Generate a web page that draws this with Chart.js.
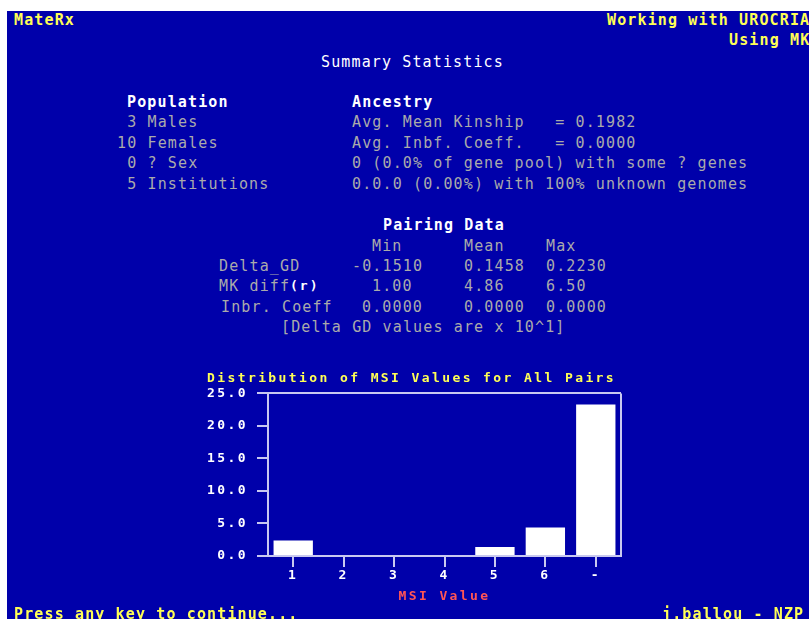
<!DOCTYPE html>
<html>
<head>
<meta charset="utf-8">
<script src="https://cdn.jsdelivr.net/npm/chart.js@4"></script>
<style>
  html, body { margin:0; padding:0; width:809px; height:619px; overflow:hidden; background:#ffffff; }
  #screen { position:absolute; left:7px; top:11px; width:802px; height:608px; background:#0000aa; }
  .t { position:absolute; white-space:pre; font-family:"DejaVu Sans Mono", monospace; font-size:15px;
       line-height:20px; letter-spacing:1.13px; color:#aaaaaa; z-index:2; }
  .w { color:#ffffff; font-weight:bold; }
  .wn { color:#ffffff; }
  .y { color:#ffff55; font-weight:bold; }
  .sm { font-size:13px; letter-spacing:2px; color:#ffffff; font-weight:bold; }
  #chartWrap { position:absolute; left:200px; top:362px; width:430px; height:246px; z-index:1; }
</style>
</head>
<body>
<div id="screen"></div>
<div id="texts"></div>
<div id="chartWrap"><canvas id="c" width="430" height="246"></canvas></div>
<script>
// ---- data ----
const categories = ['1', '2', '3', '4', '5', '6', '-'];
const msiValues = [2.4, 0, 0, 0, 1.4, 4.4, 23.3];
const yMin = 0, yMax = 25, yStep = 5;
const chartTitle = 'Distribution of MSI Values for All Pairs';
const xTitle = 'MSI Value';

// ---- screen text (content, class, left x, cap-centre y) ----
const screenLines = [
  ['MateRx', 'y', 14, 19.5],
  ['Working with UROCRIA', 'y', 607, 19.5],
  ['Using MK', 'y', 729, 40],
  ['Summary Statistics', 'wn', 321, 61.5],
  ['Population', 'w', 127, 101.5],
  ['Ancestry', 'w', 352, 101.5],
  [' 3 Males', '', 117, 122],
  ['10 Females', '', 117, 142.5],
  [' 0 ? Sex', '', 117, 162.5],
  [' 5 Institutions', '', 117, 183.5],
  ['Avg. Mean Kinship   = 0.1982', '', 352, 122],
  ['Avg. Inbf. Coeff.   = 0.0000', '', 352, 142.5],
  ['0 (0.0% of gene pool) with some ? genes', '', 352, 162.5],
  ['0.0.0 (0.00%) with 100% unknown genomes', '', 352, 183.5],
  ['Pairing Data', 'w', 383, 225],
  ['Min', '', 372, 245.5],
  ['Mean', '', 464, 245.5],
  ['Max', '', 546, 245.5],
  ['Delta_GD', '', 219, 265.5],
  ['-0.1510', '', 352, 265.5],
  ['0.1458', '', 464, 265.5],
  ['0.2230', '', 546, 265.5],
  ['MK diff', '', 219, 286],
  ['1.00', '', 372, 286],
  ['4.86', '', 464, 286],
  ['6.50', '', 546, 286],
  ['Inbr. Coeff', '', 221, 306.5],
  ['0.0000', '', 362, 306.5],
  ['0.0000', '', 464, 306.5],
  ['0.0000', '', 546, 306.5],
  ['[Delta GD values are x 10^1]', '', 281, 327],
  ['Press any key to continue...', 'y', 14, 613.5],
  ['j.ballou - NZP', 'y', 662, 613.5]
];
const smallLines = [['(r)', 290, 286.5]];

const tc = document.getElementById('texts');
screenLines.forEach(([txt, cls, x, cy]) => {
  const d = document.createElement('div');
  d.className = 't ' + cls;
  d.textContent = txt;
  d.style.left = x + 'px';
  d.style.top = (cy - 9.7) + 'px';
  tc.appendChild(d);
});
smallLines.forEach(([txt, x, cy]) => {
  const d = document.createElement('div');
  d.className = 't sm';
  d.textContent = txt;
  d.style.left = x + 'px';
  d.style.top = (cy - 10.8) + 'px';
  tc.appendChild(d);
});

// ---- chart ----
const LINE = '#c8c8f0';
const SPACING = '2.4px';
const spacingPlugin = {
  id: 'spacing',
  beforeUpdate(chart) { chart.ctx.letterSpacing = SPACING; },
  beforeDraw(chart) { chart.ctx.letterSpacing = SPACING; }
};
const frameRight = {
  id: 'frameRight',
  afterDraw(chart) {
    const {ctx, chartArea} = chart;
    const yS = chart.scales.y;
    ctx.save();
    ctx.strokeStyle = LINE;
    ctx.lineWidth = 2;
    ctx.beginPath();
    const x = Math.round(chartArea.right);
    ctx.moveTo(x, yS.getPixelForValue(yMax));
    ctx.lineTo(x, yS.getPixelForValue(yMin));
    ctx.stroke();
    ctx.restore();
  }
};
const chartFont = { family: '"DejaVu Sans Mono", monospace', size: 13, weight: 'bold', lineHeight: 1.1 };

new Chart(document.getElementById('c'), {
  type: 'bar',
  data: {
    labels: categories,
    datasets: [{
      data: msiValues,
      backgroundColor: '#ffffff',
      borderWidth: 0,
      categoryPercentage: 1,
      barPercentage: 0.78
    }]
  },
  options: {
    responsive: false,
    animation: false,
    layout: { padding: { left: 7, right: 9, top: 0, bottom: 0 } },
    plugins: {
      legend: { display: false },
      tooltip: { enabled: false },
      title: {
        display: true, text: chartTitle, align: 'start', color: '#ffff55',
        font: chartFont, padding: { top: 9, bottom: 8.1 }
      }
    },
    scales: {
      x: {
        offset: true,
        grid: { offset: false, drawOnChartArea: false, color: LINE, lineWidth: 2, tickLength: 11 },
        border: { color: LINE, width: 2 },
        ticks: { color: '#ffffff', font: chartFont, padding: 1.5, maxRotation: 0 },
        title: { display: true, text: xTitle, color: '#ff5555', font: chartFont, padding: { top: 7, bottom: 4 } },
        afterFit(s) { s.height = 52; }
      },
      y: {
        min: yMin, max: yMax,
        grid: {
          color: (c) => (c.tick && (c.tick.value === yMax || c.tick.value === yMin)) ? LINE : 'rgba(0,0,0,0)',
          tickColor: LINE, lineWidth: 2, tickLength: 11
        },
        border: { color: LINE, width: 2 },
        ticks: { stepSize: yStep, color: '#ffffff', font: chartFont, padding: 9,
                 callback: (v) => Number(v).toFixed(1) },
        afterFit(s) { s.width = 61; }
      }
    }
  },
  plugins: [spacingPlugin, frameRight]
});
</script>
</body>
</html>
